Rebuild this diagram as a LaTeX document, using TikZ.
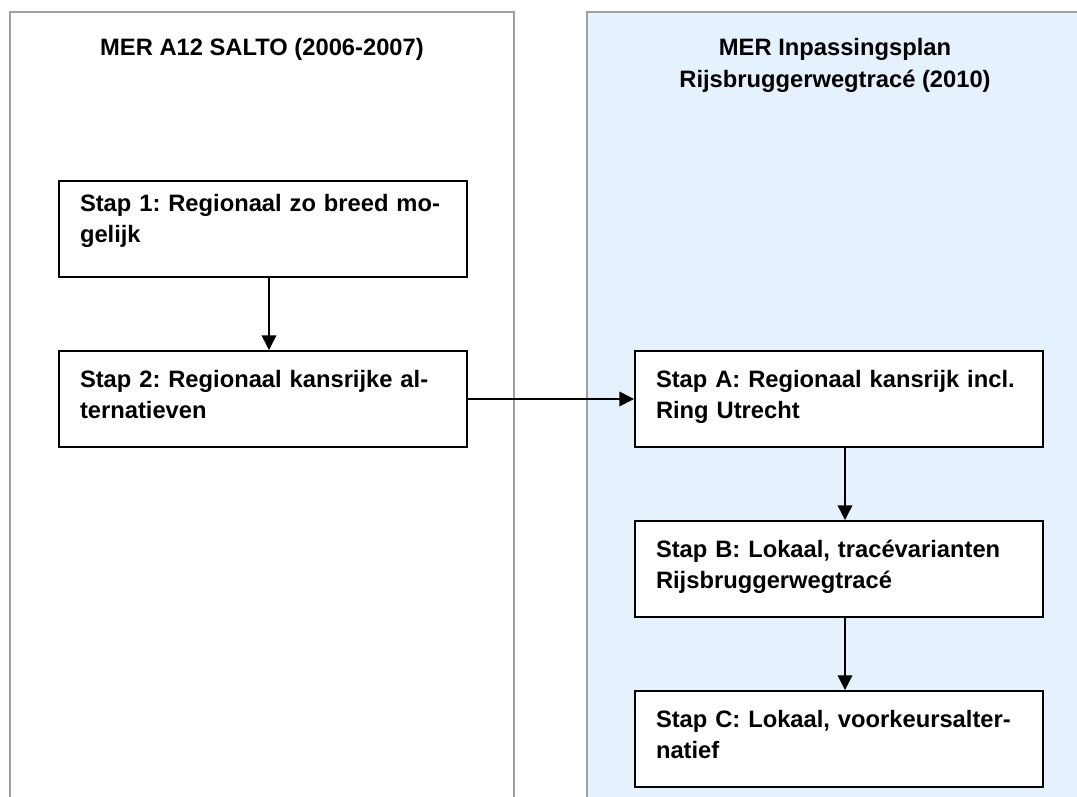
\documentclass[tikz,border=0pt]{standalone}
\usepackage{fontspec}
\setmainfont{Liberation Sans}
\usetikzlibrary{arrows.meta, positioning}

\definecolor{lanefill}{RGB}{229,241,252}
\definecolor{laneline}{RGB}{160,160,160}

\frenchspacing

\begin{document}
\begin{tikzpicture}[
        x=0.75pt, y=-0.75pt,
        node distance=54pt,
        lane/.style={
            draw=laneline,
            line width=1.5pt
        },
        lanetitle/.style={
            align=center,
            inner sep=0pt,
            font=\fontsize{17.8}{24}\selectfont\bfseries
        },
        stepbox/.style={
            rectangle,
            draw=black,
            line width=1.5pt,
            fill=white,
            minimum width=306pt,
            text width=274.5pt,
            inner xsep=15.75pt,
            inner ysep=0pt,
            text height=27pt,
            text depth=45pt,
            align=left,
            font=\fontsize{17.8}{23.25}\selectfont\bfseries
        },
        arrow/.style={
            line width=1.1pt,
            -{Triangle[length=11pt, width=11pt]}
        }
    ]
        \path [use as bounding box] (0,0) rectangle (1077,796);
        \clip (0,0) rectangle (1077,796);

        % the two lanes
        \draw [lane] (10,830) |- (514,12) -- (514,830);
        \draw [lane, fill=lanefill] (587,830) |- (1083,12) -- (1083,830);

        \node (salto) [lanetitle, anchor=base] at (262,55) {MER A12 SALTO (2006-2007)};
        \node (inpassing) [lanetitle, anchor=base] at (835,87) {MER Inpassingsplan\\Rijsbruggerwegtracé (2010)};

        \node (stap1) [stepbox, text height=23pt, text depth=49pt, anchor=north west] at (58,180) {Stap 1: Regionaal zo breed mo-\\gelijk};
        \node (stap2) [stepbox, below=of stap1] {Stap 2: Regionaal kansrijke al-\\ternatieven};
        \node (stapa) [stepbox, right=124.5pt of stap2] {Stap A: Regionaal kansrijk incl.\\Ring Utrecht};
        \node (stapb) [stepbox, below=of stapa] {Stap B: Lokaal, tracévarianten\\Rijsbruggerwegtracé};
        \node (stapc) [stepbox, below=of stapb] {Stap C: Lokaal, voorkeursalter-\\natief};

        \draw [arrow] ([xshift=4.5pt]stap1.south) -- ([xshift=4.5pt]stap2.north);
        \draw [arrow] (stap2) -- (stapa);
        \draw [arrow] ([xshift=4.5pt]stapa.south) -- ([xshift=4.5pt]stapb.north);
        \draw [arrow] ([xshift=4.5pt]stapb.south) -- ([xshift=4.5pt]stapc.north);

    \end{tikzpicture}
\end{document}
